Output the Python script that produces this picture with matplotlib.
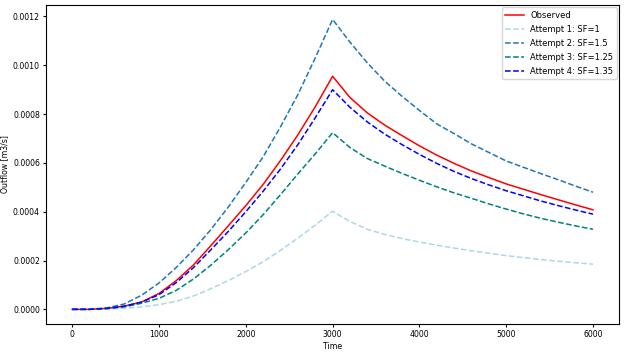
import matplotlib
matplotlib.use("Agg")
import matplotlib.pyplot as plt

# time axis [s], sampled every 200 s
time = list(range(0, 6001, 200))

observed = [
    0.0, 0.0, 0.000004, 0.000013, 0.00003, 0.000065, 0.000118, 0.000183,
    0.000262, 0.000343, 0.000425, 0.000512, 0.00061, 0.000715, 0.00083, 0.000955,
    0.000868, 0.000805, 0.000755, 0.000712, 0.00067, 0.000632, 0.000598, 0.000567,
    0.00054, 0.000514, 0.000492, 0.00047, 0.000449, 0.000428, 0.000408,
]
attempt1 = [
    0.0, 0.0, 0.000001, 0.000004, 0.00001, 0.000019, 0.000033, 0.000055,
    0.000085, 0.000118, 0.000155, 0.000195, 0.000242, 0.000292, 0.000345, 0.000402,
    0.00036, 0.000328, 0.000307, 0.00029, 0.000276, 0.000263, 0.000251, 0.00024,
    0.00023, 0.00022, 0.000212, 0.000204, 0.000197, 0.000191, 0.000185,
]
attempt2 = [
    0.0, 0.0, 0.000006, 0.000022, 0.000058, 0.000108, 0.000172, 0.000245,
    0.000328, 0.00042, 0.00052, 0.000625, 0.000748, 0.00088, 0.00103, 0.001188,
    0.001095, 0.00101, 0.000935, 0.000873, 0.000815, 0.00076, 0.00072, 0.000678,
    0.000643, 0.000608, 0.000582, 0.000556, 0.000531, 0.000505, 0.00048,
]
attempt3 = [
    0.0, 0.0, 0.000003, 0.00001, 0.000025, 0.000045, 0.000078, 0.000125,
    0.000182, 0.000245, 0.000313, 0.000388, 0.00047, 0.000555, 0.000637, 0.000724,
    0.000663, 0.000618, 0.000587, 0.000557, 0.000529, 0.000502, 0.000477, 0.000455,
    0.000432, 0.000411, 0.000391, 0.000373, 0.000357, 0.000342, 0.000328,
]
attempt4 = [
    0.0, 0.0, 0.000004, 0.000013, 0.00003, 0.00006, 0.00011, 0.000172,
    0.000245, 0.00032, 0.0004, 0.000484, 0.000575, 0.000675, 0.000785, 0.0009,
    0.000828, 0.000768, 0.000718, 0.000675, 0.000635, 0.000598, 0.000565, 0.000536,
    0.00051, 0.000486, 0.000465, 0.000444, 0.000425, 0.000407, 0.00039,
]

plt.rcParams["font.size"] = 5.6

fig, ax = plt.subplots(figsize=(6.24, 3.52), dpi=100)
fig.subplots_adjust(left=0.074, right=0.992, top=0.986, bottom=0.08)

ax.plot(time, observed, color="red", lw=1.1, label="Observed")
ax.plot(time, attempt1, color="lightblue", ls="--", lw=1.1, label="Attempt 1: SF=1")
ax.plot(time, attempt2, color="tab:blue", ls="--", lw=1.1, label="Attempt 2: SF=1.5")
ax.plot(time, attempt3, color="teal", ls="--", lw=1.1, label="Attempt 3: SF=1.25")
ax.plot(time, attempt4, color="blue", ls="--", lw=1.1, label="Attempt 4: SF=1.35")

ax.set_xlabel("Time", labelpad=2)
ax.set_ylabel("Outflow [m3/s]", labelpad=3)
ax.tick_params(length=2.5, pad=2)
ax.legend(loc="upper right", fontsize=6, handlelength=2.2, labelspacing=0.6,
          borderaxespad=0.3)

fig.savefig("out.png", dpi=100)
